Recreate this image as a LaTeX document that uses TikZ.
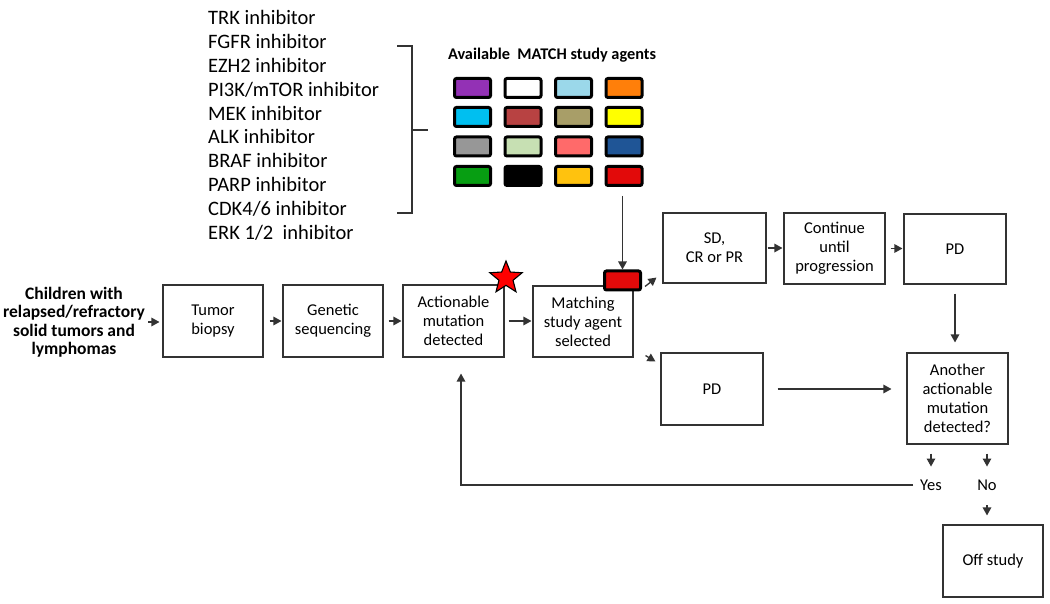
\documentclass[tikz,border=0pt]{standalone}
\usepackage{fontspec}
\setmainfont{Carlito}
\usetikzlibrary{arrows.meta,shapes.geometric}
\definecolor{lc}{HTML}{333333}
\definecolor{cpurple}{HTML}{9331B5}
\definecolor{clblue}{HTML}{9BD8EA}
\definecolor{corange}{HTML}{FF7F0A}
\definecolor{ccyan}{HTML}{00BFF0}
\definecolor{cbrick}{HTML}{B84242}
\definecolor{ckhaki}{HTML}{A89E68}
\definecolor{cyellow}{HTML}{FFFF00}
\definecolor{cgray}{HTML}{979797}
\definecolor{clgreen}{HTML}{C7E0B3}
\definecolor{csalmon}{HTML}{FF6A6A}
\definecolor{cdblue}{HTML}{1F5596}
\definecolor{cgreen}{HTML}{079E12}
\definecolor{cgold}{HTML}{FFC20E}
\definecolor{cred}{HTML}{E20A0A}
\begin{document}
\begin{tikzpicture}[x=1pt,y=-1pt,
  box/.style={draw=lc, line width=1.1pt, inner sep=0pt, align=center,
    font=\fontsize{16.5}{19}\selectfont},
  arr/.style={draw=lc, line width=1.3pt, -{Triangle[length=8pt,width=8.5pt]}},
  plain/.style={draw=lc, line width=1.3pt},
  swatch/.style={draw=black, line width=3pt, rounded corners=2pt,
    minimum width=36pt, minimum height=19pt, inner sep=0pt},
  inh/.style={anchor=base west, inner sep=0pt, font=\fontsize{20.5}{24}\selectfont},
  lab/.style={inner sep=0pt, text height=10.5pt, text depth=0pt, font=\fontsize{16.5}{19}\selectfont}
]
\useasboundingbox (0,0) rectangle (1050,604);
\fill[white] (0,0) rectangle (1050,604);

% inhibitor list
\foreach \t [count=\i] in {TRK inhibitor, FGFR inhibitor, EZH2 inhibitor,
  PI3K/mTOR inhibitor, MEK inhibitor, ALK inhibitor, BRAF inhibitor,
  PARP inhibitor, CDK4/6 inhibitor, ERK 1/2\ \ inhibitor}
  \node[inh] (inh\i) at (208, {25+23.8*(\i-1)}) {\t};

% bracket
\coordinate (bt) at (397,46);
\coordinate (bb) at (397,213);
\coordinate (bm) at (412,130);
\coordinate (bmt) at (428,130);
\draw[plain] (bt) -- ++(15,0) -- ++(0,167) -- (bb);
\draw[plain] (bm) -- (bmt);

% palette
\node[font=\bfseries\fontsize{16.3}{19}\selectfont, inner sep=0pt] (ptitle) at (552,55) {Available\ \ MATCH study agents};
\node[swatch, fill=cpurple] (s11) at (472.5,88) {};
\node[swatch, fill=white]   (s12) at (523,88) {};
\node[swatch, fill=clblue]  (s13) at (573.5,88) {};
\node[swatch, fill=corange] (s14) at (624,88) {};
\node[swatch, fill=ccyan]   (s21) at (472.5,117) {};
\node[swatch, fill=cbrick]  (s22) at (523,117) {};
\node[swatch, fill=ckhaki]  (s23) at (573.5,117) {};
\node[swatch, fill=cyellow] (s24) at (624,117) {};
\node[swatch, fill=cgray]   (s31) at (472.5,146.5) {};
\node[swatch, fill=clgreen] (s32) at (523,146.5) {};
\node[swatch, fill=csalmon] (s33) at (573.5,146.5) {};
\node[swatch, fill=cdblue]  (s34) at (624,146.5) {};
\node[swatch, fill=cgreen]  (s41) at (472.5,176) {};
\node[swatch, fill=black]   (s42) at (523,176) {};
\node[swatch, fill=cgold]   (s43) at (573.5,176) {};
\node[swatch, fill=cred]    (s44) at (624,176) {};

% main flow
\node[align=center, inner sep=0pt, font=\bfseries\fontsize{17.5}{18.5}\selectfont] (kids) at (74,322)
  {Children with\\relapsed/refractory\\solid tumors and\\lymphomas};
\node[box, minimum width=100pt, minimum height=72pt] (tumor) at (213,321) {Tumor\\biopsy};
\node[box, minimum width=100pt, minimum height=72pt] (gen) at (333,321) {Genetic\\sequencing};
\node[box, minimum width=101pt, minimum height=72pt] (act) at (453.5,321) {Actionable\\mutation\\detected};
\node[box, minimum width=100pt, minimum height=71pt] (match) at (583,321.5) {Matching\\study agent\\selected};
\node[star, star points=5, star point ratio=2.3, minimum size=34pt, inner sep=0pt,
  fill=red, draw=black, line width=1.1pt] (star) at (506,278) {};
\node[swatch, fill=cred] (sel) at (622.5,280.5) {};

\node[box, minimum width=103pt, minimum height=70pt] (sd) at (714.5,248) {SD,\\CR or PR};
\node[box, minimum width=101pt, minimum height=71pt] (cont) at (834.5,248.5) {Continue\\until\\progression};
\node[box, minimum width=102pt, minimum height=70pt] (pdt) at (955,249) {PD};
\node[box, minimum width=102pt, minimum height=72pt] (pdl) at (712,389) {PD};
\node[box, minimum width=101pt, minimum height=91pt] (another) at (957.5,398.5) {Another\\actionable\\mutation\\detected?};
\node[box, minimum width=100pt, minimum height=72pt] (off) at (993,561) {Off study};
\node[lab] (yes) at (931,485) {Yes};
\node[lab] (no) at (987,485) {No};

\coordinate (palbot) at (622.5,196);
\coordinate (fb) at (461,485);

\draw[arr, shorten <=3pt, shorten >=3pt] (kids.east) -- (kids.east -| tumor.west);
\draw[arr, shorten <=6pt, shorten >=1pt] (tumor) -- (gen);
\draw[arr, shorten <=5pt, shorten >=1pt] (gen) -- (act);
\draw[arr, shorten <=4pt, shorten >=1pt] (act.east) -- (act.east -| match.west);
\draw[arr] (palbot) -- (sel.north);
\draw[arr] ([shift={(3,-5)}]sel.south east) -- ([shift={(-6,-6)}]sd.south west);
\draw[arr] ([shift={(12,-2)}]match.south east) -- ([shift={(-5,9)}]pdl.north west);
\draw[arr, shorten <=1pt, shorten >=1pt] (sd.east) -- (sd.east -| cont.west);
\draw[arr, shorten <=5pt, shorten >=1pt] (cont.east) -- (cont.east -| pdt.west);
\draw[arr, shorten <=9pt, shorten >=10pt] (pdt.south) -- (pdt.south |- another.north);
\draw[arr, shorten <=14pt, shorten >=15pt] (pdl.east) -- (pdl.east -| another.west);
\draw[arr, shorten <=9pt, shorten >=13pt] (yes |- another.south) -- (yes.north);
\draw[arr, shorten <=9pt, shorten >=13pt] (no |- another.south) -- (no.north);
\draw[arr, shorten <=15pt, shorten >=9pt] (no.south) -- (no.south |- off.north);
\draw[arr, shorten <=7pt, shorten >=16pt] (yes.west) -- (fb) -- (fb |- act.south);
\end{tikzpicture}
\end{document}
